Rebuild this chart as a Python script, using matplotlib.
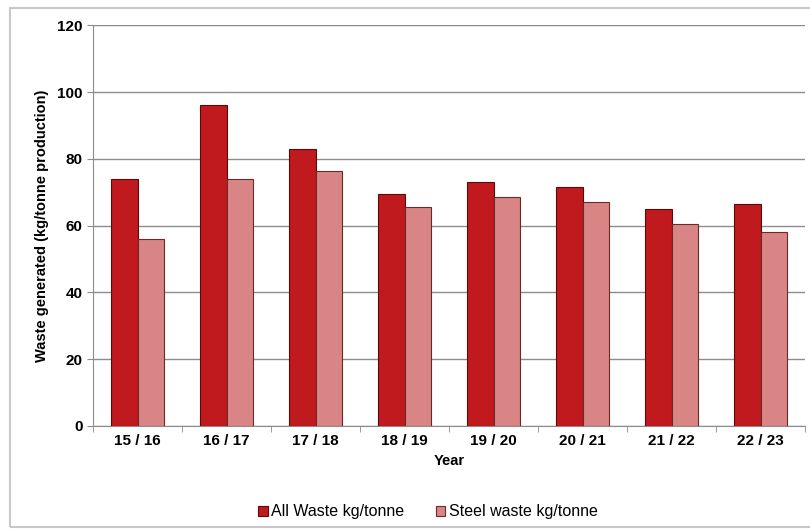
import numpy as np
import matplotlib
matplotlib.use('Agg')
import matplotlib.pyplot as plt
from matplotlib.patches import Rectangle

years = ['15 / 16', '16 / 17', '17 / 18', '18 / 19', '19 / 20', '20 / 21', '21 / 22', '22 / 23']
all_waste = [74, 96, 83, 69.5, 73, 71.5, 65, 66.5]
steel_waste = [56, 74, 76.5, 65.5, 68.5, 67, 60.5, 58]

plt.rcParams['font.family'] = ['Liberation Sans', 'DejaVu Sans']

fig = plt.figure(figsize=(8.1, 5.29), dpi=100)
# outer chart border (right edge cut off like the source image)
fig.patches.append(Rectangle((0.012, 0.004), 1.05, 0.981, transform=fig.transFigure,
                             fill=False, edgecolor='#c8c8c8', lw=1.5))
ax = fig.add_axes([0.115, 0.195, 0.879, 0.757])

x = np.arange(len(years))
w = 0.3
ax.bar(x - w / 2, all_waste, w, color='#c01a1e', edgecolor='#5a0a0a', lw=0.8,
       label='All Waste kg/tonne', zorder=3)
ax.bar(x + w / 2, steel_waste, w, color='#d98585', edgecolor='#6a2a2a', lw=0.8,
       label='Steel waste kg/tonne', zorder=3)

ax.set_xlim(-0.5, len(years) - 0.5)
ax.set_ylim(0, 120)
ax.set_yticks(range(0, 121, 20))
ax.set_xticks(x)
ax.set_xticklabels(years)
ax.set_xticks(np.arange(len(years) + 1) - 0.5, minor=True)
ax.tick_params(axis='x', which='major', length=0, pad=6)
ax.tick_params(axis='x', which='minor', length=4, color='#8c8c8c')
ax.yaxis.grid(True, color='#8c8c8c', lw=1.0, zorder=0)
for s in ['top', 'right']:
    ax.spines[s].set_visible(False)
ax.spines['left'].set_color('#8c8c8c')
ax.spines['bottom'].set_color('#8c8c8c')
ax.tick_params(axis='y', length=4, color='#8c8c8c')
ax.tick_params(axis='both', labelsize=11)
for lab in ax.get_xticklabels() + ax.get_yticklabels():
    lab.set_fontweight('bold')
ax.set_xlabel('Year', fontsize=10.5, fontweight='bold', labelpad=4)
ax.set_ylabel('Waste generated (kg/tonne production)', fontsize=10.5, fontweight='bold', labelpad=6)

ax.legend(loc='upper center', bbox_to_anchor=(0.47, -0.16), ncol=2, frameon=False,
          fontsize=11.5, handlelength=0.6, handleheight=0.6, handletextpad=0.2, columnspacing=2.0)

fig.savefig('out.png', dpi=100)
